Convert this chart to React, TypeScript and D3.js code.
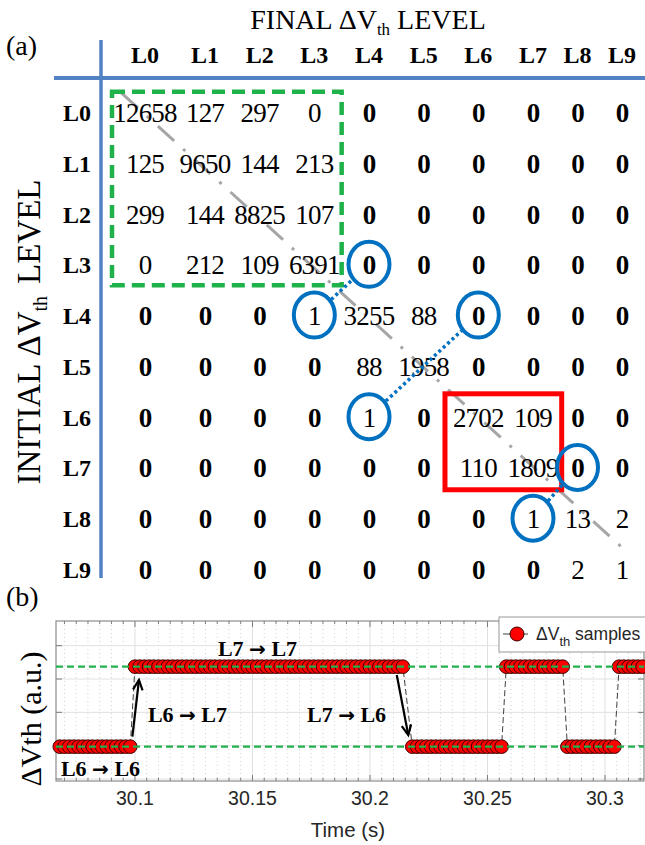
import React from 'react';
import * as d3 from 'd3';

// ---------- (a) transition matrix ----------
const levelLabels = ['L0', 'L1', 'L2', 'L3', 'L4', 'L5', 'L6', 'L7', 'L8', 'L9'];
const countsL0 = [12658, 127, 297, 0, 0, 0, 0, 0, 0, 0];
const countsL1 = [125, 9650, 144, 213, 0, 0, 0, 0, 0, 0];
const countsL2 = [299, 144, 8825, 107, 0, 0, 0, 0, 0, 0];
const countsL3 = [0, 212, 109, 6391, 0, 0, 0, 0, 0, 0];
const countsL4 = [0, 0, 0, 1, 3255, 88, 0, 0, 0, 0];
const countsL5 = [0, 0, 0, 0, 88, 1958, 0, 0, 0, 0];
const countsL6 = [0, 0, 0, 0, 1, 0, 2702, 109, 0, 0];
const countsL7 = [0, 0, 0, 0, 0, 0, 110, 1809, 0, 0];
const countsL8 = [0, 0, 0, 0, 0, 0, 0, 1, 13, 2];
const countsL9 = [0, 0, 0, 0, 0, 0, 0, 0, 2, 1];
const matrix = [countsL0, countsL1, countsL2, countsL3, countsL4, countsL5, countsL6, countsL7, countsL8, countsL9];

// circled cells [row, col] and the dotted links between them
const circledCells = [[3, 4], [4, 3], [4, 6], [6, 4], [7, 8], [8, 7]];
const circleLinks = [[[4, 3], [3, 4]], [[6, 4], [4, 6]], [[8, 7], [7, 8]]];

// ---------- (b) ΔVth samples ----------
const timesL6a = [30.068, 30.070, 30.072, 30.074, 30.076, 30.078, 30.080, 30.082, 30.084, 30.086, 30.088, 30.090, 30.092, 30.094, 30.096, 30.098];
const timesL7a = [30.100, 30.102, 30.104, 30.106, 30.108, 30.110, 30.112, 30.114, 30.116, 30.118, 30.120, 30.122, 30.124, 30.126, 30.128, 30.130, 30.132, 30.134, 30.136, 30.138, 30.140, 30.142, 30.144, 30.146, 30.148, 30.150, 30.152, 30.154, 30.156, 30.158, 30.160, 30.162, 30.164, 30.166, 30.168, 30.170, 30.172, 30.174, 30.176, 30.178, 30.180, 30.182, 30.184, 30.186, 30.188, 30.190, 30.192, 30.194, 30.196, 30.198, 30.200, 30.202, 30.204, 30.206, 30.208, 30.210, 30.212, 30.214];
const timesL6b = [30.218, 30.220, 30.222, 30.224, 30.226, 30.228, 30.230, 30.232, 30.234, 30.236, 30.238, 30.240, 30.242, 30.244, 30.246, 30.248, 30.250, 30.252, 30.254, 30.256];
const timesL7b = [30.258, 30.260, 30.262, 30.264, 30.266, 30.268, 30.270, 30.272, 30.274, 30.276, 30.278, 30.280, 30.282];
const timesL6c = [30.284, 30.286, 30.288, 30.290, 30.292, 30.294, 30.296, 30.298, 30.300, 30.302, 30.304];
const timesL7c = [30.306, 30.308, 30.310, 30.312, 30.314, 30.316];
const runLevels = ['L6', 'L7', 'L6', 'L7', 'L6', 'L7'];
const runTimes = [timesL6a, timesL7a, timesL6b, timesL7b, timesL6c, timesL7c];
const levelValue: Record<string, number> = { L6: 0.97, L7: 3.37 };

const xTicks = [30.1, 30.15, 30.2, 30.25, 30.3];
const yTicks = [0, 1, 2, 3, 4];

// annotations: [from, to, t, y]
const transitionLabels: [string, string, number, number][] = [
  ['L7', 'L7', 30.1353, 3.69],
  ['L6', 'L7', 30.1055, 1.71],
  ['L7', 'L6', 30.1732, 1.71],
  ['L6', 'L6', 30.0685, 0.09],
];
// arrows: [t0, y0, t1, y1]
const transitionArrows: [number, number, number, number][] = [
  [30.0989, 1.27, 30.1017, 2.97],
  [30.2114, 3.12, 30.2163, 1.32],
];

const SERIF = "'Liberation Serif','Times New Roman',serif";
const SANS = "'Liberation Sans',Arial,sans-serif";

export default function App() {
  const W = 645, H = 845;
  // matrix scales
  const colX = d3.scaleLinear().domain([0, 1, 7, 9]).range([145, 205, 533, 622]);
  const rowY = d3.scaleLinear().domain([0, 9]).range([113, 570]);

  const axisBlue = '#5282c4';
  const circleBlue = '#0070c0';

  // plot (b) scales
  const tX = d3.scaleLinear().domain([30.0664, 30.3166]).range([56, 644]);
  const vY = d3.scaleLinear().domain([-0.06, 4.74]).range([781, 621]);
  const [px0, px1] = tX.range();
  const [py0, py1] = [vY.range()[1], vY.range()[0]];

  const samples: { t: number; v: number }[] = [];
  runTimes.forEach((ts, i) => ts.forEach((t) => samples.push({ t, v: levelValue[runLevels[i]] })));
  const line = d3.line<{ t: number; v: number }>().x((d) => tX(d.t)).y((d) => vY(d.v));

  const minorX = d3.range(30.07, 30.3166, 0.005).filter((t) => !xTicks.some((m) => Math.abs(m - t) < 1e-6));

  const ellipse = (r: number, c: number) => ({ cx: colX(c), cy: rowY(r) - 1, rx: 20.5, ry: 22.5 });

  return (
    <svg width={W} height={H} style={{ position: 'absolute', left: 0, top: 0, background: '#fff' }}>
      <rect x={0} y={0} width={W} height={H} fill="#fff" />
      {/* ===== (a) ===== */}
      <text x={368} y={29} textAnchor="middle" fontFamily={SERIF} fontSize={28}>
        FINAL ΔV<tspan fontSize={17} dy={6}>th</tspan><tspan dy={-6}> LEVEL</tspan>
      </text>
      <text x={6} y={55} fontFamily={SERIF} fontSize={28}>(a)</text>
      <text transform="translate(40,332) rotate(-90)" textAnchor="middle" fontFamily={SERIF} fontSize={33}>
        INITIAL ΔV<tspan fontSize={20} dy={7}>th</tspan><tspan dy={-7} dx={12}>LEVEL</tspan>
      </text>

      {/* blue table axes */}
      <line x1={54} x2={W} y1={78} y2={78} stroke={axisBlue} strokeWidth={4} />
      <line x1={101} x2={101} y1={40} y2={578} stroke={axisBlue} strokeWidth={3.5} />

      {/* headers */}
      {levelLabels.map((l, i) => (
        <text key={'h' + l} x={colX(i)} y={63} textAnchor="middle" fontFamily={SERIF} fontWeight="bold" fontSize={24}>{l}</text>
      ))}
      {levelLabels.map((l, i) => (
        <text key={'r' + l} x={77} y={rowY(i) + 8} textAnchor="middle" fontFamily={SERIF} fontWeight="bold" fontSize={24}>{l}</text>
      ))}

      {/* diagonal dash-dot guide */}
      <line x1={colX(-0.39)} y1={rowY(-0.39)} x2={colX(9.13)} y2={rowY(8.66)} stroke="#a6a6a6" strokeWidth={3} strokeDasharray="22 12 3 12" />

      {/* cell values */}
      {matrix.map((row, r) =>
        row.map((v, c) => (
          <text key={`c${r}-${c}`} x={colX(c)} y={rowY(r) + 9} textAnchor="middle" fontFamily={SERIF}
            fontWeight={v === 0 && !(r <= 3 && c <= 3) ? 'bold' : 'normal'} fontSize={27} letterSpacing={-0.8}>
            {v}
          </text>
        ))
      )}

      {/* green & red boxes */}
      <rect x={colX(-0.55)} y={rowY(-0.42)} width={colX(3.5) - colX(-0.55)} height={rowY(3.39) - rowY(-0.42)}
        fill="none" stroke="#1fb24a" strokeWidth={4.5} strokeDasharray="13 7" />
      <rect x={colX(5.39)} y={rowY(5.53)} width={colX(7.645) - colX(5.39)} height={rowY(7.42) - rowY(5.53)}
        fill="none" stroke="#ff0000" strokeWidth={5} />

      {/* blue circles and links */}
      {circledCells.map(([r, c]) => {
        const e = ellipse(r, c);
        return <ellipse key={`e${r}-${c}`} {...e} fill="none" stroke={circleBlue} strokeWidth={4} />;
      })}
      {circleLinks.map(([a, b], i) => {
        const ea = ellipse(a[0], a[1]);
        const eb = ellipse(b[0], b[1]);
        const dx = eb.cx - ea.cx, dy = eb.cy - ea.cy;
        const len = Math.hypot(dx, dy);
        const ux = dx / len, uy = dy / len;
        const off = 23;
        return (
          <line key={'l' + i} x1={ea.cx + ux * off} y1={ea.cy + uy * off} x2={eb.cx - ux * off} y2={eb.cy - uy * off}
            stroke={circleBlue} strokeWidth={3.5} strokeDasharray="3 3" />
        );
      })}

      {/* ===== (b) ===== */}
      <text x={6} y={606} fontFamily={SERIF} fontSize={28}>(b)</text>
      <rect x={px0} y={py0} width={px1 - px0} height={py1 - py0} fill="#fff" />
      {minorX.map((t, i) => (
        <line key={'mx' + i} x1={tX(t)} x2={tX(t)} y1={py0} y2={py1} stroke="#cfcfcf" strokeWidth={1} strokeDasharray="1 3" />
      ))}
      {xTicks.map((t) => (
        <line key={'gx' + t} x1={tX(t)} x2={tX(t)} y1={py0} y2={py1} stroke="#e0e0e0" strokeWidth={1} />
      ))}
      {yTicks.map((v) => (
        <line key={'gy' + v} x1={px0} x2={px1} y1={vY(v)} y2={vY(v)} stroke="#e0e0e0" strokeWidth={1} />
      ))}
      {/* ticks */}
      {minorX.map((t, i) => (
        <g key={'tm' + i}>
          <line x1={tX(t)} x2={tX(t)} y1={py1} y2={py1 - 3} stroke="#7a7a7a" />
          <line x1={tX(t)} x2={tX(t)} y1={py0} y2={py0 + 3} stroke="#7a7a7a" />
        </g>
      ))}
      {xTicks.map((t) => (
        <g key={'tx' + t}>
          <line x1={tX(t)} x2={tX(t)} y1={py1} y2={py1 - 6} stroke="#7a7a7a" />
          <line x1={tX(t)} x2={tX(t)} y1={py0} y2={py0 + 6} stroke="#7a7a7a" />
          <text x={tX(t)} y={py1 + 24} textAnchor="middle" fontFamily={SANS} fontSize={19.5} fill="#262626">{t}</text>
        </g>
      ))}
      {yTicks.map((v) => (
        <g key={'ty' + v}>
          <line x1={px0} x2={px0 + 6} y1={vY(v)} y2={vY(v)} stroke="#7a7a7a" />
          <line x1={px1} x2={px1 - 6} y1={vY(v)} y2={vY(v)} stroke="#7a7a7a" />
        </g>
      ))}
      <rect x={px0} y={py0} width={px1 - px0} height={py1 - py0} fill="none" stroke="#8c8c8c" strokeWidth={1.2} />

      {/* series line and markers */}
      <path d={line(samples) || ''} fill="none" stroke="#404040" strokeWidth={1} strokeDasharray="6 3" />
      {samples.map((d, i) => (
        <circle key={'s' + i} cx={tX(d.t)} cy={vY(d.v)} r={6.8} fill="#ff0000" stroke="#3a0000" strokeWidth={1} />
      ))}
      {/* level reference lines */}
      {Object.values(levelValue).map((v) => (
        <line key={'lv' + v} x1={px0} x2={px1} y1={vY(v)} y2={vY(v)} stroke="#22b14c" strokeWidth={2.4} strokeDasharray="7 4" />
      ))}

      {/* arrows */}
      {transitionArrows.map(([t0, y0, t1, y1], i) => {
        const x0 = tX(t0), yy0 = vY(y0), x1 = tX(t1), yy1 = vY(y1);
        const ang = Math.atan2(yy1 - yy0, x1 - x0);
        const hl = 11, ha = 0.45;
        const hx1 = x1 - hl * Math.cos(ang - ha), hy1 = yy1 - hl * Math.sin(ang - ha);
        const hx2 = x1 - hl * Math.cos(ang + ha), hy2 = yy1 - hl * Math.sin(ang + ha);
        return (
          <g key={'a' + i} stroke="#000" strokeWidth={2.2} fill="none">
            <line x1={x0} y1={yy0} x2={x1} y2={yy1} />
            <polyline points={`${hx1},${hy1} ${x1},${yy1} ${hx2},${hy2}`} />
          </g>
        );
      })}
      {transitionLabels.map(([a, b, t, v]) => (
        <text key={a + b + t} x={tX(t)} y={vY(v)} fontFamily={SERIF} fontWeight="bold" fontSize={22}>
          {a} <tspan fontFamily="'DejaVu Sans',sans-serif" fontSize={20}>{'\u2192'}</tspan> {b}
        </text>
      ))}

      {/* axis labels */}
      <text x={348} y={837} textAnchor="middle" fontFamily={SANS} fontSize={20.5} fill="#262626">Time (s)</text>
      <text transform="translate(41,719) rotate(-90)" textAnchor="middle" fontFamily={SERIF} fontSize={30}>ΔVth (a.u.)</text>

      {/* legend */}
      <rect x={499} y={617} width={160} height={35} fill="#fff" stroke="#999" strokeWidth={1} />
      <line x1={503} x2={528} y1={634} y2={634} stroke="#404040" strokeWidth={1} />
      <circle cx={517} cy={634} r={7} fill="#ff0000" stroke="#3a0000" strokeWidth={1} />
      <text x={536} y={640} fontFamily={SANS} fontSize={17.5} fill="#262626">
        ΔV<tspan fontSize={13} dy={6}>th</tspan><tspan dy={-6}> samples</tspan>
      </text>
    </svg>
  );
}
